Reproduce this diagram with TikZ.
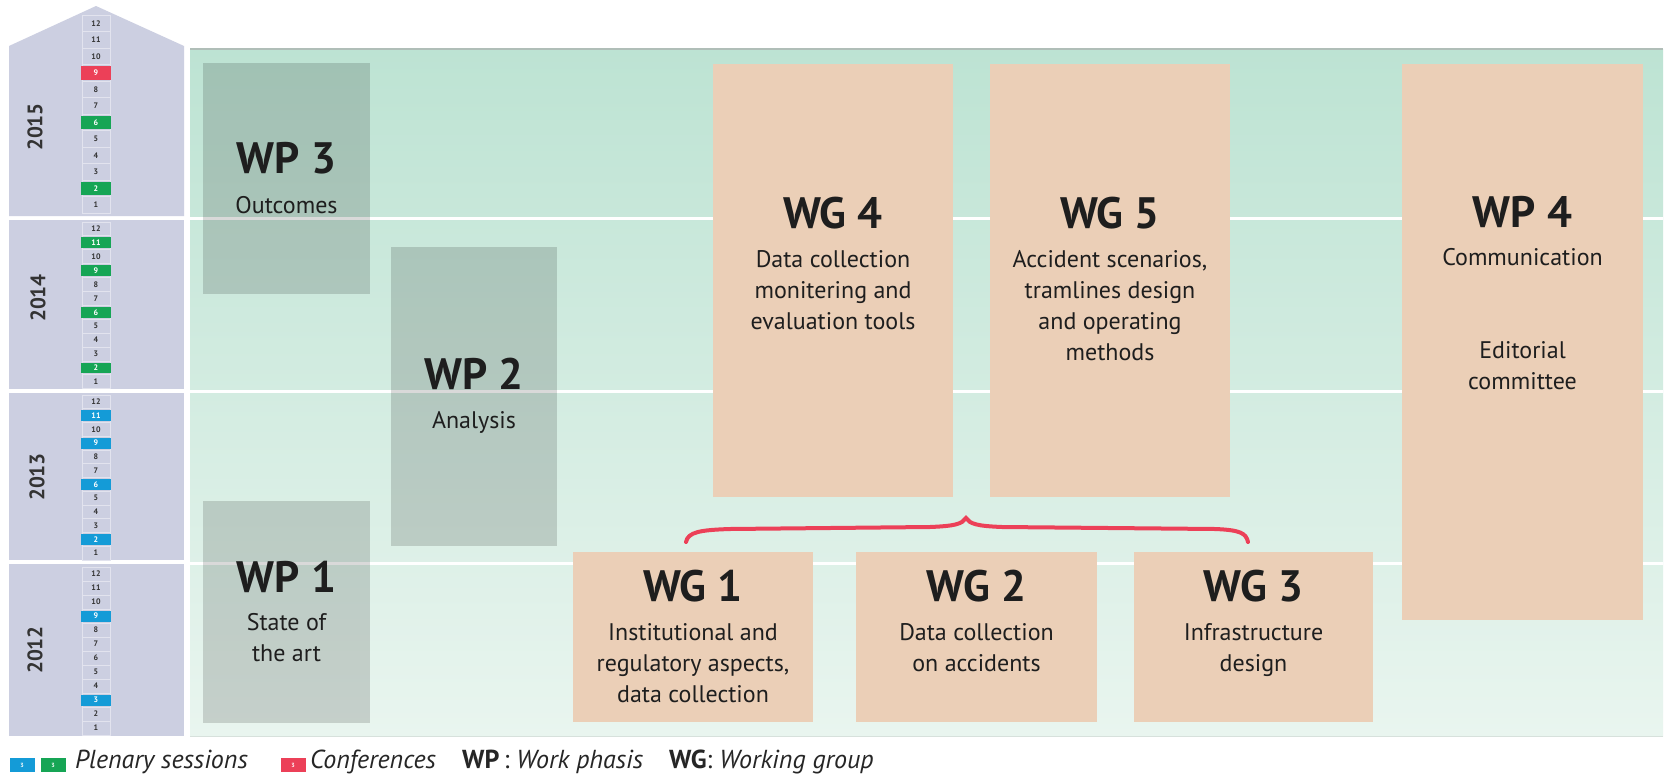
\documentclass[tikz,border=0pt]{standalone}
\usepackage{fontspec}
\setmainfont{PT Sans}
\definecolor{lav}{RGB}{204,207,225}
\definecolor{lavline}{RGB}{226,227,238}
\definecolor{bgtop}{RGB}{189,227,211}
\definecolor{bgbot}{RGB}{233,245,239}
\definecolor{peach}{RGB}{235,207,183}
\definecolor{plgreen}{RGB}{22,165,85}
\definecolor{plblue}{RGB}{20,155,215}
\definecolor{confred}{RGB}{236,64,88}
\definecolor{txt}{RGB}{30,30,30}
\newcommand\monthcells[4]{%
  \foreach \m in {1,...,12} {
    \pgfmathsetmacro\yt{#2+(12-\m)*#3}
    \draw[lavline, fill=lav, line width=1pt] (82,\yt) rectangle (110,\yt+#3);
    \node[monthnum] (c#1-\m) at (96,\yt+#3/2) {\m};
  }
  \foreach \m/\c in {#4} {
    \pgfmathsetmacro\yt{#2+(12-\m)*#3}
    \fill[\c] (81,\yt+1.5) rectangle (111,\yt+#3-1.5);
    \node[monthnum, text=white] (k#1-\m) at (96,\yt+#3/2) {\m};
  }
}
\begin{document}
\begin{tikzpicture}[x=1pt,y=-1pt,
  monthnum/.style={font=\fontsize{8}{8}\selectfont\bfseries, text=black!80, inner sep=0},
  yearlabel/.style={font=\fontsize{21}{21}\selectfont\bfseries, text=black!80, rotate=90, inner sep=0},
  wpbox/.style={fill=black, fill opacity=0.15, draw=none, inner sep=0, anchor=north west},
  wgbox/.style={fill=peach, draw=none, inner sep=0, anchor=north west},
  title/.style={font=\fontsize{44}{44}\selectfont\bfseries, text=txt, anchor=base, inner sep=0},
  body/.style={font=\fontsize{24}{31}\selectfont, text=txt, anchor=base, inner sep=0},
  legsq/.style={minimum width=25, minimum height=14, inner sep=0, text=white, font=\fontsize{6}{6}\selectfont\bfseries},
  legtext/.style={font=\fontsize{26}{26}\selectfont, text=black!85, anchor=base west, inner sep=0},
  yearline/.style={white, line width=3pt}
]
\useasboundingbox (0,0) rectangle (1665,779);
\fill[white] (0,0) rectangle (1665,779);

% left time column
\fill[lav] (9,216) -- (9,46) -- (96,6) -- (184,46) -- (184,216) -- cycle;
\fill[lav] (9,220) rectangle (184,389);
\fill[lav] (9,393) rectangle (184,560);
\fill[lav] (9,564) rectangle (184,736);
\monthcells{2015}{15}{16.5}{2/plgreen,6/plgreen,9/confred}
\monthcells{2014}{222}{13.9}{2/plgreen,6/plgreen,9/plgreen,11/plgreen}
\monthcells{2013}{395}{13.75}{2/plblue,6/plblue,9/plblue,11/plblue}
\monthcells{2012}{567}{14}{3/plblue,9/plblue}
\node[yearlabel] (y2015) at (35,127) {2015};
\node[yearlabel] (y2014) at (38,298) {2014};
\node[yearlabel] (y2013) at (37,477) {2013};
\node[yearlabel] (y2012) at (35,650) {2012};

% green field
\shade[top color=bgtop, bottom color=bgbot] (190,49) rectangle (1663,736);
\draw[color={rgb,255:red,176;green,190;blue,184}, line width=2pt] (190,49) -- (1663,49);
\draw[color={rgb,255:red,215;green,225;blue,220}, line width=1pt] (190,736) -- (1663,736);
\draw[yearline] (190,218) -- (1663,218);
\draw[yearline] (190,391) -- (1663,391);
\draw[yearline] (190,563) -- (1663,563);

% work phases
\node[wpbox, minimum width=167, minimum height=231] (wp3) at (203,63) {};
\node[wpbox, minimum width=166, minimum height=299] (wp2) at (391,247) {};
\node[wpbox, minimum width=167, minimum height=222] (wp1) at (203,501) {};
% working groups
\node[wgbox, minimum width=240, minimum height=433] (wg4) at (713,64) {};
\node[wgbox, minimum width=240, minimum height=433] (wg5) at (990,64) {};
\node[wgbox, minimum width=241, minimum height=556] (wp4) at (1402,64) {};
\node[wgbox, minimum width=240, minimum height=170] (wg1) at (573,552) {};
\node[wgbox, minimum width=241, minimum height=170] (wg2) at (856,552) {};
\node[wgbox, minimum width=239, minimum height=170] (wg3) at (1134,552) {};

% texts
\node[title] (wp3t) at (286.5,173) {WP 3};
\node[body] (wp3a) at (286.5,213) {Outcomes};
\node[title] (wp2t) at (474,389) {WP 2};
\node[body] (wp2a) at (474,428) {Analysis};
\node[title] (wp1t) at (286.5,592) {WP 1};
\node[body] (wp1a) at (286.5,630) {State of};
\node[body] (wp1b) at (286.5,661) {the art};

\node[title] (wg4t) at (833,228) {WG 4};
\node[body] (wg4a) at (833,267) {Data collection};
\node[body] (wg4b) at (833,298) {monitering and};
\node[body] (wg4c) at (833,329) {evaluation tools};

\node[title] (wg5t) at (1110,228) {WG 5};
\node[body] (wg5a) at (1110,267) {Accident scenarios,};
\node[body] (wg5b) at (1110,298) {tramlines design};
\node[body] (wg5c) at (1110,329) {and operating};
\node[body] (wg5d) at (1110,360) {methods};

\node[title] (wp4t) at (1522.5,227) {WP 4};
\node[body] (wp4a) at (1522.5,265) {Communication};
\node[body] (wp4b) at (1522.5,358) {Editorial};
\node[body] (wp4c) at (1522.5,389) {committee};

\node[title] (wg1t) at (693,601) {WG 1};
\node[body] (wg1a) at (693,640) {Institutional and};
\node[body] (wg1b) at (693,671) {regulatory aspects,};
\node[body] (wg1c) at (693,702) {data collection};

\node[title] (wg2t) at (976.5,601) {WG 2};
\node[body] (wg2a) at (976.5,640) {Data collection};
\node[body] (wg2b) at (976.5,671) {on accidents};

\node[title] (wg3t) at (1253.5,601) {WG 3};
\node[body] (wg3a) at (1253.5,640) {Infrastructure};
\node[body] (wg3b) at (1253.5,671) {design};

% brace
\draw[confred, line width=4pt, line cap=round]
  (686,542) .. controls (688,532) and (700,530) .. (730,529)
  -- (930,527) .. controls (955,526) and (962,524) .. (966,518)
  .. controls (970,524) and (977,526) .. (1002,527)
  -- (1215,529) .. controls (1240,530) and (1246,533) .. (1248,542);

% legend
\node[legsq, fill=plblue] (lg1) at (22,765) {3};
\node[legsq, fill=plgreen] (lg2) at (53,765) {3};
\node[legtext] (lt1) at (75,768) {\itshape Plenary sessions};
\node[legsq, fill=confred] (lg3) at (293,765) {3};
\node[legtext] (lt2) at (310,768) {\itshape Conferences};
\node[legtext] (lt3) at (462,768) {\bfseries WP\normalfont\,: \itshape Work phasis};
\node[legtext] (lt4) at (669,768) {\bfseries WG\normalfont: \itshape Working group};
\end{tikzpicture}
\end{document}
